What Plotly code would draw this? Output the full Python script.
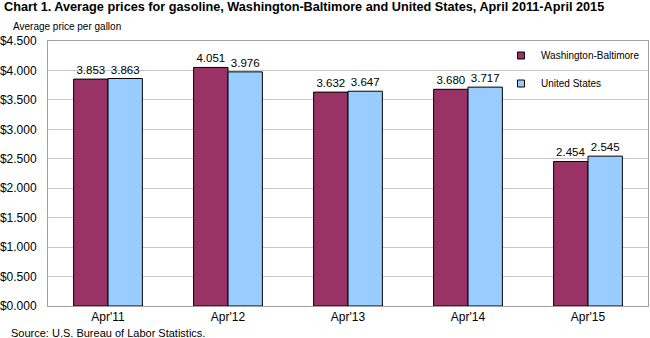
import plotly.graph_objects as go

categories = ["Apr'11", "Apr'12", "Apr'13", "Apr'14", "Apr'15"]
wash_balt = [3.853, 4.051, 3.632, 3.680, 2.454]
us = [3.863, 3.976, 3.647, 3.717, 2.545]
tick_vals = [0, 0.5, 1.0, 1.5, 2.0, 2.5, 3.0, 3.5, 4.0, 4.5]
tick_text = [f"${v:.3f}" for v in tick_vals]

WB_COLOR = "#993366"
US_COLOR = "#99CCFF"

fig = go.Figure()
fig.add_bar(x=categories, y=wash_balt, name="Washington-Baltimore", showlegend=False,
            marker=dict(color=WB_COLOR, line=dict(color="#000000", width=1)),
            text=[f"{v:.3f}" for v in wash_balt], textposition="outside",
            textfont=dict(size=11.5, color="#000000"), cliponaxis=False)
fig.add_bar(x=categories, y=us, name="United States", showlegend=False,
            marker=dict(color=US_COLOR, line=dict(color="#000000", width=1)),
            text=[f"{v:.3f}" for v in us], textposition="outside",
            textfont=dict(size=11.5, color="#000000"), cliponaxis=False)
# legend entries with small square swatches
fig.add_scatter(x=[None], y=[None], mode="markers", name="Washington-Baltimore",
                legendgroup="a",
                marker=dict(symbol="square", size=7, color=WB_COLOR, line=dict(color="#000000", width=1)))
fig.add_scatter(x=[None], y=[None], mode="markers", name="United States",
                legendgroup="b",
                marker=dict(symbol="square", size=7, color=US_COLOR, line=dict(color="#000000", width=1)))

fig.update_layout(
    width=650, height=338,
    margin=dict(l=48, r=2, t=41, b=32, autoexpand=False),
    paper_bgcolor="white", plot_bgcolor="white",
    font=dict(family="Arial, Liberation Sans, sans-serif", size=12, color="#000000"),
    barmode="group", bargap=0.427, bargroupgap=0,
    showlegend=True,
    legend=dict(x=0.755, y=1.0, xanchor="left", yanchor="top",
                bgcolor="rgba(0,0,0,0)", font=dict(size=10),
                itemwidth=30, tracegroupgap=9, traceorder="grouped"),
    annotations=[
        dict(text="<b>Chart 1. Average prices for gasoline, Washington-Baltimore and United States, April 2011-April 2015</b>",
             x=0, y=1, xref="paper", yref="paper", xanchor="left", yanchor="middle",
             xshift=-46, yshift=34, showarrow=False, font=dict(size=12.7)),
        dict(text="Average price per gallon", x=0, y=1, xref="paper", yref="paper",
             xanchor="left", yanchor="middle", xshift=-37, yshift=15, showarrow=False,
             font=dict(size=10)),
        dict(text="Source: U.S. Bureau of Labor Statistics.", x=0, y=0, xref="paper", yref="paper",
             xanchor="left", yanchor="middle", xshift=-39, yshift=-27, showarrow=False,
             font=dict(size=11)),
    ],
)
fig.update_yaxes(range=[0, 4.5], tickvals=tick_vals, ticktext=tick_text,
                 showgrid=True, gridcolor="#C8C8C8", gridwidth=1,
                 showline=True, linecolor="#A0A0A0", mirror=True,
                 ticks="outside", ticklen=8, tickcolor="rgba(0,0,0,0)",
                 zeroline=False, tickfont=dict(size=12))
fig.update_xaxes(showline=True, linecolor="#A0A0A0", mirror=True, ticks="",
                 tickfont=dict(size=12))

fig.write_html("out.html")
